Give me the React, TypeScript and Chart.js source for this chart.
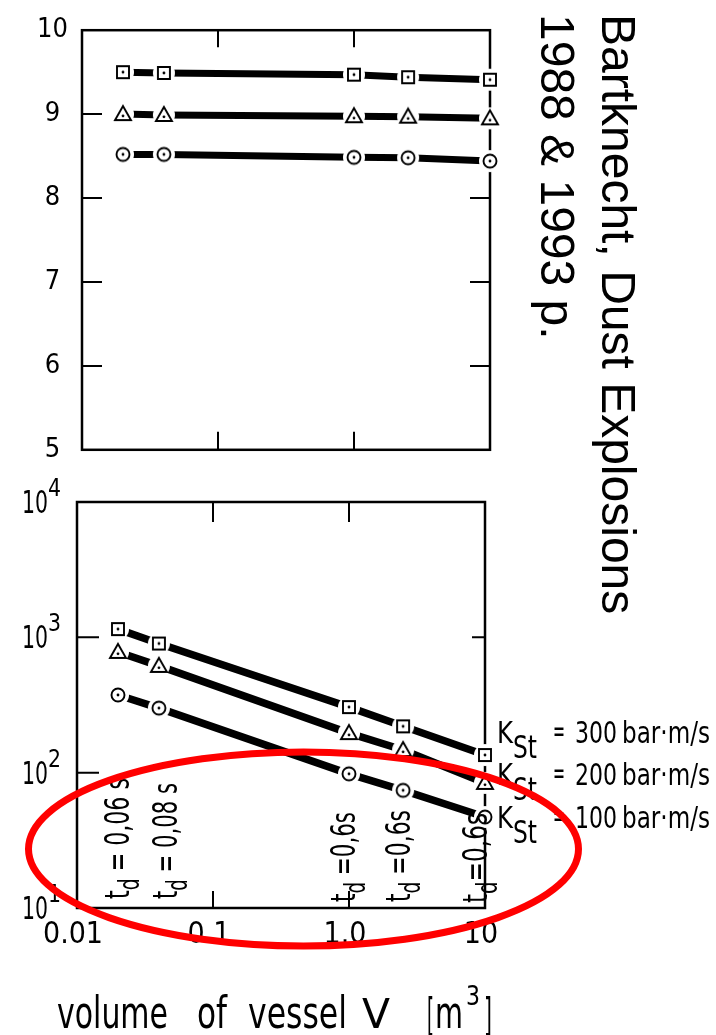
import React, { useEffect, useRef } from 'react';
import { Chart, registerables } from 'chart.js';
Chart.register(...registerables);

// ---------- data ----------
const volumes = [0.02, 0.04, 1.0, 2.5, 10];
const pmax300 = [9.5, 9.49, 9.47, 9.44, 9.41];
const pmax200 = [9.0, 8.99, 8.975, 8.97, 8.95];
const pmax100 = [8.52, 8.52, 8.485, 8.48, 8.44];
const rate300 = [1150, 900, 305, 220, 135];
const rate200 = [780, 615, 196, 147, 84];
const rate100 = [375, 300, 98, 74, 47];
const kstValues = ['300', '200', '100'];
const tdTexts = [' = 0,06 s', ' = 0,08 s', ' =0,6s', ' =0,6s', '=0,6s'];
const topYTicks = [5, 6, 7, 8, 9, 10];
const bottomYTicks = [10, 100, 1000, 10000];
const bottomYExponents = ['1', '2', '3', '4'];
const xTicks = [0.01, 0.1, 1, 10];
const xTickLabels = ['0.01', '0.1', '1.0', '10'];
const titleLines = ['Bartknecht, Dust Explosions', '1988 & 1993 p.'];

// inner tick marks
const topInner = { left: [6, 7, 8, 9], right: [6, 7, 8], top: [0.1, 1], bottom: [0.1, 1] };
const botInner = { left: [100, 1000], right: [1000], top: [0.1, 1], bottom: [0.1, 1] };

const NARROW = '"Liberation Sans Narrow", "Arial Narrow", "DejaVu Sans Condensed", "Liberation Sans", sans-serif';
const SANS = '"Liberation Sans", Arial, Helvetica, sans-serif';

function makeMarker(shape: string) {
  const S = 30;
  const c = document.createElement('canvas');
  c.width = S; c.height = S;
  const g = c.getContext('2d')!;
  const m = S / 2;
  g.fillStyle = '#fff';
  g.beginPath(); g.arc(m, m, 11, 0, Math.PI * 2); g.fill();
  g.lineWidth = 1.9; g.strokeStyle = '#000';
  g.beginPath();
  if (shape === 'rect') g.rect(m - 6, m - 6, 12, 12);
  else if (shape === 'triangle') { g.moveTo(m, m - 8); g.lineTo(m + 8, m + 6); g.lineTo(m - 8, m + 6); g.closePath(); }
  else g.arc(m, m, 6.5, 0, Math.PI * 2);
  g.fill(); g.stroke();
  g.fillStyle = '#000';
  g.beginPath(); g.arc(m, shape === 'triangle' ? m + 1.8 : m, 1.4, 0, Math.PI * 2); g.fill();
  return c;
}

function fitText(ctx: CanvasRenderingContext2D, text: string, x: number, y: number, font: string, width?: number) {
  ctx.font = font;
  const w = ctx.measureText(text).width;
  ctx.save();
  ctx.translate(x, y);
  if (width) ctx.scale(width / w, 1);
  ctx.fillText(text, 0, 0);
  ctx.restore();
}

function framePlugin(spec: any, lens: any) {
  return {
    id: 'frameTicks',
    beforeDatasetsDraw(chart: any) {
      const { ctx, chartArea: a, scales } = chart;
      const x = scales.x, y = scales.y;
      ctx.save();
      ctx.strokeStyle = '#000';
      ctx.lineWidth = 2.5;
      ctx.strokeRect(a.left, a.top, a.right - a.left, a.bottom - a.top);
      ctx.lineWidth = 2;
      ctx.beginPath();
      spec.left.forEach((v: number) => { const p = y.getPixelForValue(v); ctx.moveTo(a.left, p); ctx.lineTo(a.left + lens.left, p); });
      spec.right.forEach((v: number) => { const p = y.getPixelForValue(v); ctx.moveTo(a.right, p); ctx.lineTo(a.right - lens.right, p); });
      spec.top.forEach((v: number) => { const p = x.getPixelForValue(v); ctx.moveTo(p, a.top); ctx.lineTo(p, a.top + lens.top); });
      spec.bottom.forEach((v: number) => { const p = x.getPixelForValue(v); ctx.moveTo(p, a.bottom); ctx.lineTo(p, a.bottom - lens.bottom); });
      ctx.stroke();
      ctx.restore();
    },
  };
}

function drawTd(ctx: CanvasRenderingContext2D, bx: number, by: number, rest: string, len: number) {
  const F = 33;
  const big = `${F}px ${NARROW}`;
  const small = `${F * 0.85}px ${NARROW}`;
  ctx.font = big; const wT = ctx.measureText('t').width; const wR = ctx.measureText(rest).width;
  ctx.font = small; const wD = ctx.measureText('d').width;
  const s = len / (wT + wD + wR);
  ctx.save();
  ctx.translate(bx, by);
  ctx.rotate(-Math.PI / 2);
  ctx.scale(s, 1);
  ctx.font = big; ctx.fillText('t', 0, 0);
  ctx.font = small; ctx.fillText('d', wT, 10);
  ctx.font = big; ctx.fillText(rest, wT + wD, 0);
  ctx.restore();
}

const annotations = {
  id: 'annotations',
  afterDraw(chart: any) {
    const { ctx, scales } = chart;
    const y = scales.y;
    ctx.save();
    ctx.fillStyle = '#000';
    ctx.textAlign = 'left';
    ctx.textBaseline = 'alphabetic';

    // y labels 10^n
    bottomYTicks.forEach((v, i) => {
      const p = y.getPixelForValue(v);
      fitText(ctx, '10', 22, p + 11, `32px ${NARROW}`, 26);
      fitText(ctx, bottomYExponents[i], 48, p - 6, `24px ${NARROW}`, 13);
    });

    // t_d labels (rotated)
    const tdPos = [[129, 899, 121], [177, 899, 116], [355, 902, 90], [410, 902, 92], [487, 903, 90]];
    tdTexts.forEach((t, i) => {
      const [bx, by, len] = tdPos[i];
      drawTd(ctx, bx, by, t, len);
    });

    // K_St labels
    const kBase = [743, 785, 828];
    kstValues.forEach((k, i) => {
      const b = kBase[i];
      fitText(ctx, 'K', 497, b, `31px ${NARROW}`, 16);
      fitText(ctx, 'St', 513, b + 15, `32px ${NARROW}`, 24);
      fitText(ctx, '=', 553, b - 2, `30px ${NARROW}`, 12);
      fitText(ctx, k, 575, b, `31px ${NARROW}`, 42);
      fitText(ctx, 'bar\u00B7m/s', 622, b, `31px ${NARROW}`, 88);
    });

    // x-axis title
    const xt: [string, number, number, number, number][] = [
      ['volume', 57, 168, 44, 1028],
      ['of', 197, 227, 44, 1028],
      ['vessel', 248, 347, 44, 1028],
      ['V', 362, 390, 40, 1028],
      ['[', 427, 434, 44, 1030],
      ['m', 435, 463, 44, 1028],
      ['3', 466, 480, 27, 1005],
      [']', 484, 492, 44, 1030],
    ];
    xt.forEach(([t, x0, x1, fs, b]) => fitText(ctx, t, x0, b, `${fs}px ${NARROW}`, x1 - x0));

    // rotated source title
    ctx.font = `48px ${SANS}`;
    [[602, 14], [541, 14]].forEach(([tx, ty], i) => {
      ctx.save();
      ctx.translate(tx, ty);
      ctx.rotate(Math.PI / 2);
      ctx.fillText(titleLines[i], 0, 0);
      ctx.restore();
    });

    // red ellipse
    ctx.strokeStyle = '#ff0000';
    ctx.lineWidth = 7;
    ctx.beginPath();
    ctx.ellipse(303.5, 849, 275, 97, 0, 0, Math.PI * 2);
    ctx.stroke();
    ctx.restore();
  },
};

export default function App() {
  const topRef = useRef<HTMLCanvasElement>(null);
  const botRef = useRef<HTMLCanvasElement>(null);

  useEffect(() => {
    const sq = makeMarker('rect');
    const tr = makeMarker('triangle');
    const ci = makeMarker('circle');
    const mk = (vals: number[], img: HTMLCanvasElement, bw: number) => ({
      data: volumes.map((v, i) => ({ x: v, y: vals[i] })),
      borderColor: '#000',
      borderWidth: bw,
      pointStyle: img,
      pointRadius: 8,
      pointHoverRadius: 8,
      clip: false,
      tension: 0,
      fill: false,
    });

    const top = new Chart(topRef.current!, {
      type: 'line',
      data: { datasets: [mk(pmax300, sq, 7), mk(pmax200, tr, 7), mk(pmax100, ci, 7)] as any },
      options: {
        animation: false,
        responsive: false,
        events: [],
        layout: { padding: { top: 16, right: 226, left: 0, bottom: 0 } },
        plugins: { legend: { display: false }, tooltip: { enabled: false } },
        scales: {
          x: {
            type: 'logarithmic', min: 0.01, max: 10,
            grid: { display: false, drawTicks: false }, border: { display: false },
            ticks: { display: false },
            afterFit: (s: any) => { s.height = 25; },
          },
          y: {
            type: 'linear', min: 5, max: 10,
            grid: { display: false, drawTicks: false }, border: { display: false },
            afterBuildTicks: (s: any) => { s.ticks = topYTicks.map((v) => ({ value: v })); },
            ticks: {
              color: '#000', padding: 14, crossAlign: 'center',
              font: { family: NARROW, size: 27 },
              callback: (v: any) => String(v),
            },
            afterFit: (s: any) => { s.width = 82; },
          },
        } as any,
      },
      plugins: [framePlugin(topInner, { left: 20, right: 20, top: 17, bottom: 18 })],
    });

    const bot = new Chart(botRef.current!, {
      type: 'line',
      data: { datasets: [mk(rate300, sq, 7.5), mk(rate200, tr, 7.5), mk(rate100, ci, 7.5)] as any },
      options: {
        animation: false,
        responsive: false,
        events: [],
        layout: { padding: { top: 502, right: 231, left: 0, bottom: 0 } },
        plugins: { legend: { display: false }, tooltip: { enabled: false } },
        scales: {
          x: {
            type: 'logarithmic', min: 0.01, max: 10,
            grid: { display: false, drawTicks: false }, border: { display: false },
            afterBuildTicks: (s: any) => { s.ticks = xTicks.map((v) => ({ value: v })); },
            ticks: {
              color: '#000', padding: 9, maxRotation: 0, autoSkip: false, labelOffset: -4,
              font: { family: NARROW, size: 30 },
              callback: (_v: any, i: number) => xTickLabels[i],
            },
            afterFit: (s: any) => { s.height = 127; },
          },
          y: {
            type: 'logarithmic', min: 10, max: 10000,
            grid: { display: false, drawTicks: false }, border: { display: false },
            ticks: { display: false },
            afterFit: (s: any) => { s.width = 77; },
          },
        } as any,
      },
      plugins: [framePlugin(botInner, { left: 22, right: 13, top: 20, bottom: 17 }), annotations],
    });

    return () => { top.destroy(); bot.destroy(); };
  }, []);

  return (
    <div style={{ position: 'absolute', left: 0, top: 0, width: 716, height: 1035, background: '#fff', overflow: 'hidden' }}>
      <canvas ref={botRef} width={716} height={1035} style={{ position: 'absolute', left: 0, top: 0 }} />
      <canvas ref={topRef} width={716} height={480} style={{ position: 'absolute', left: 0, top: 0 }} />
    </div>
  );
}
